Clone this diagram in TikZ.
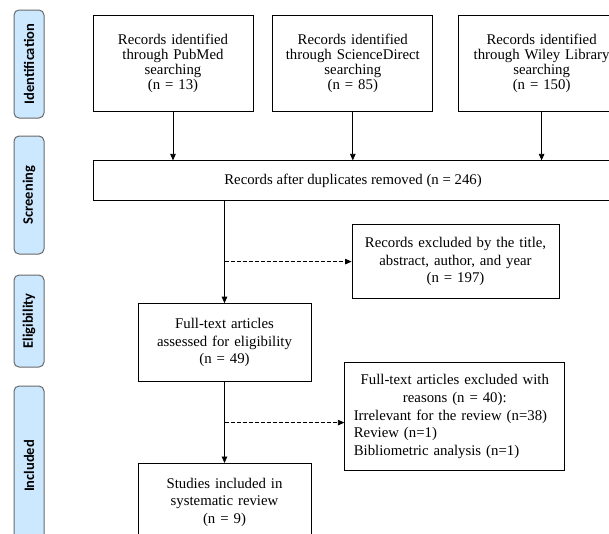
\documentclass[tikz,border=0pt]{standalone}
\usepackage{fontspec}
\setmainfont{Liberation Serif}
\newfontfamily\phasefont{Carlito}
\usetikzlibrary{arrows.meta, positioning}
\definecolor{phasefill}{RGB}{204,232,255}
\definecolor{phasedraw}{RGB}{105,105,105}

\begin{document}
\begin{tikzpicture}[x=1pt, y=-1pt, node distance=20pt and 20pt,
    srcbox/.style={rectangle, draw, line width=0.8pt, text width=150pt, align=center, minimum width=160pt, minimum height=96pt, inner sep=0pt, font=\fontsize{14.8}{15}\selectfont},
    box/.style={rectangle, draw, line width=0.8pt, align=center, inner sep=0pt, font=\fontsize{14.8}{17.6}\selectfont},
    phase/.style={rectangle, rounded corners=5pt, draw=phasedraw, fill=phasefill, line width=1pt, minimum width=30pt, inner sep=0pt, font=\phasefont\bfseries\fontsize{14.5}{15}\selectfont},
    line/.style={draw, -{Triangle[length=6.5pt, width=5.5pt]}, line width=0.8pt},
    skip/.style={line, dash pattern=on 4pt off 2pt}]
    \useasboundingbox (0,0) rectangle (609,533);
    \clip (0,0) rectangle (609,533);
    % stages on the left
    \node [phase, minimum height=108pt] (ident) at (29,64) {\rotatebox{90}{Identification}};
    \node [phase, minimum height=118pt, below=17pt of ident] (screen) {\rotatebox{90}{Screening}};
    \node [phase, minimum height=92pt, below=20pt of screen] (elig) {\rotatebox{90}{Eligibility}};
    \node [phase, minimum height=160pt, below=18pt of elig] (incl) {\rotatebox{90}{Included}};
    % records
    \node [srcbox] (pubmed) at (173,63) {Records identified\\through PubMed\\searching\\(n = 13)};
    \node [srcbox, right=19pt of pubmed] (science) {Records identified\\through ScienceDirect\\searching\\(n = 85)};
    \node [srcbox, minimum width=166pt, right=25pt of science] (wiley) {Records identified\\through Wiley Library\\searching\\(n = 150)};
    \node [box, minimum width=520pt, minimum height=40pt, below right=49pt and 0pt of pubmed.south west] (dups) {Records after duplicates removed (n = 246)};
    \node [box, text width=190pt, minimum width=207pt, minimum height=74pt, below right=23pt and 259pt of dups.south west] (excl1) {Records excluded by the title,\\abstract, author, and year\\(n = 197)};
    \node [box, text width=160pt, minimum width=173pt, minimum height=78pt, below right=102pt and 45pt of dups.south west] (fulltext) {Full-text articles\\assessed for eligibility\\(n = 49)};
    \node [box, align=left, text width=202pt, minimum width=220pt, minimum height=108pt, below right=59pt and 33pt of fulltext.north east] (excl2) {{\centering Full-text articles excluded with\\reasons (n = 40):\par}Irrelevant for the review (n=38)\\Review (n=1)\\Bibliometric analysis (n=1)};
    \node [box, text width=160pt, minimum width=173pt, minimum height=78pt, below=81pt of fulltext] (studies) {Studies included in\\systematic review\\(n = 9)};
    \coordinate (cut) at ([yshift=-6pt]excl2.west);
    % connectors
    \path [line] (pubmed) -- (pubmed |- dups.north);
    \path [line] (science) -- (science |- dups.north);
    \path [line] (wiley) -- (wiley |- dups.north);
    \path [line] (fulltext.north |- dups.south) -- (fulltext);
    \path [skip] (fulltext.north |- excl1.west) -- (excl1);
    \path [line] (fulltext) -- (studies);
    \path [skip] (fulltext.south |- cut) -- (cut);
\end{tikzpicture}
\end{document}
